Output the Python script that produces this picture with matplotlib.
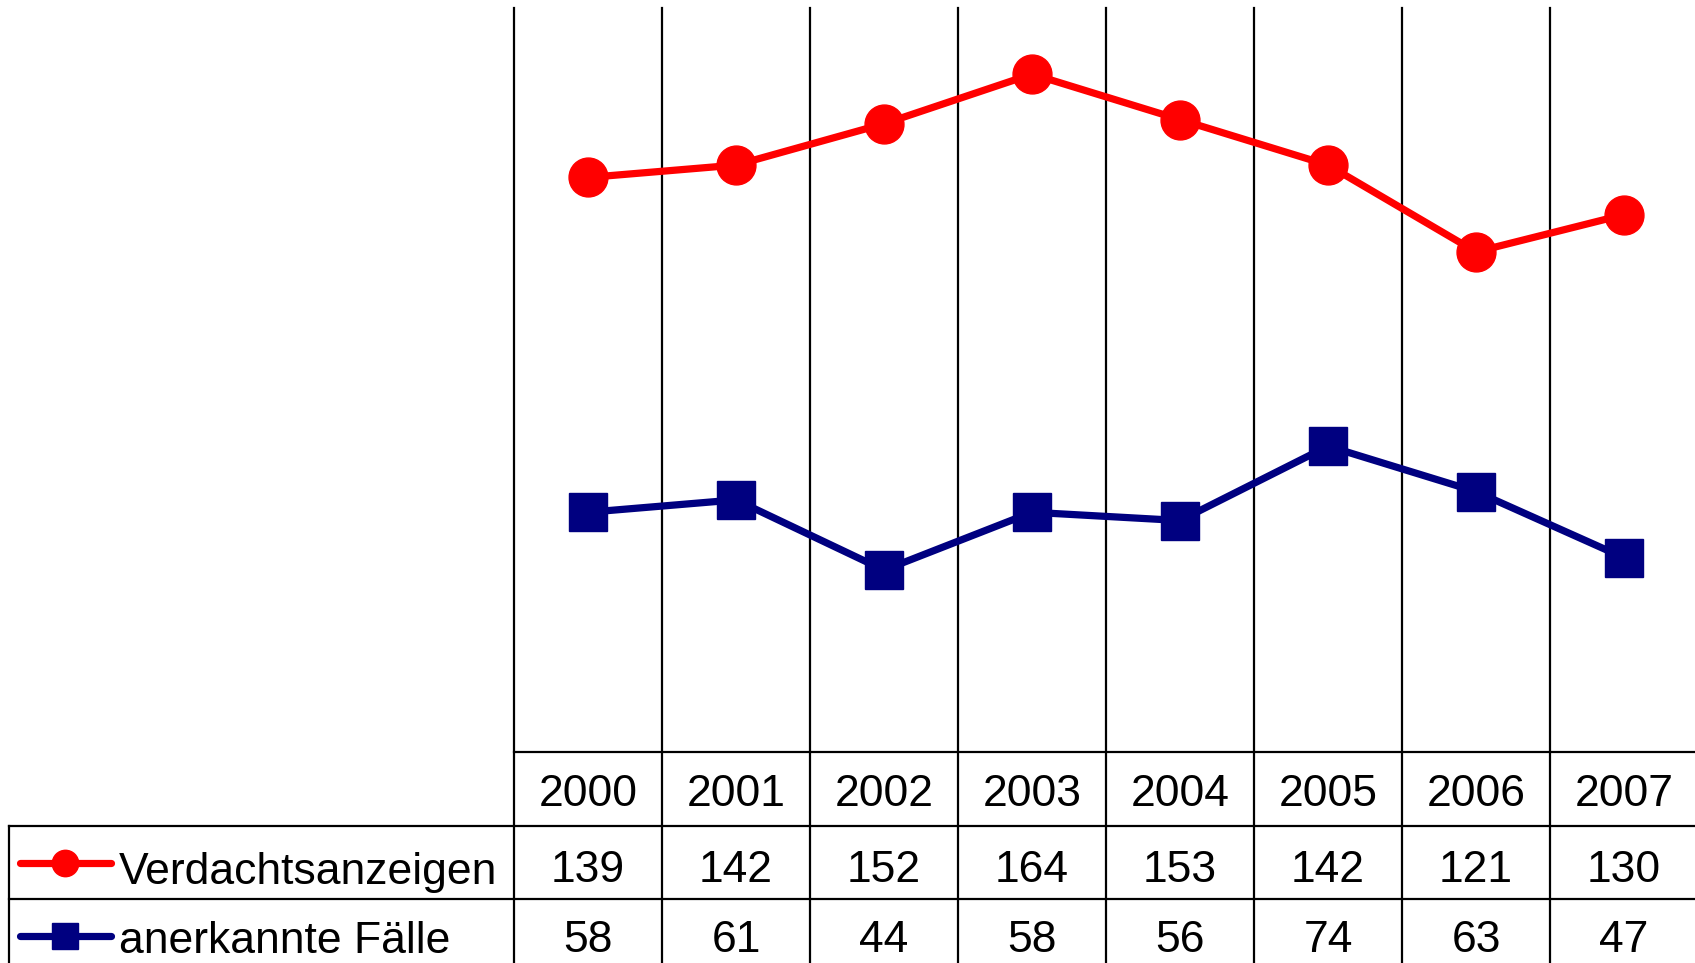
import matplotlib.pyplot as plt
from matplotlib.lines import Line2D
import matplotlib.transforms as mtransforms

plt.rcParams['font.family'] = ['Liberation Sans', 'DejaVu Sans']

years = ['2000', '2001', '2002', '2003', '2004', '2005', '2006', '2007']
verdacht = [139, 142, 152, 164, 153, 142, 121, 130]
anerkannt = [58, 61, 44, 58, 56, 74, 63, 47]
series_names = ['Verdachtsanzeigen', 'anerkannte Fälle']

W, H = 1695, 963
RED = '#ff0000'
NAVY = '#000080'
FS = 32


def fx(px):
    return px / W


def fy(py):
    return 1 - py / H


fig = plt.figure(figsize=(W / 100, H / 100), dpi=100)
ax = fig.add_axes([fx(514), fy(752), fx(1698) - fx(514), fy(8) - fy(752)])

x = list(range(len(years)))
ax.plot(x, verdacht, color=RED, lw=5.2, marker='o', ms=28, zorder=3, clip_on=False)
ax.plot(x, anerkannt, color=NAVY, lw=5.2, marker='s', ms=27, zorder=3, clip_on=False)

ax.set_xlim(-0.5, len(years) - 0.5)
ax.set_ylim(0, 180)
ax.set_xticks([])
ax.set_yticks([])
for s in ['top', 'right', 'left']:
    ax.spines[s].set_visible(False)
ax.spines['bottom'].set_linewidth(1.6)

# column separators through plot and data table
for i in range(len(years) + 1):
    ax.axvline(i - 0.5, ymin=-0.3, ymax=1, color='black', lw=1.6, clip_on=False, zorder=1)

# horizontal table lines
for py in [826, 899]:
    fig.add_artist(Line2D([fx(9), 1], [fy(py), fy(py)], color='black', lw=1.6))
fig.add_artist(Line2D([fx(9), fx(9)], [fy(826), 0], color='black', lw=1.6))

# table text (baselines)
trans = mtransforms.blended_transform_factory(ax.transData, fig.transFigure)
base_y = [806, 882, 952]
key_y = [863, 936]
for i, yr in enumerate(years):
    ax.text(i, fy(base_y[0]), yr, transform=trans, ha='center', va='baseline',
            fontsize=FS, clip_on=False)
    ax.text(i, fy(base_y[1]), str(verdacht[i]), transform=trans, ha='center',
            va='baseline', fontsize=FS, clip_on=False)
    ax.text(i, fy(base_y[2]), str(anerkannt[i]), transform=trans, ha='center',
            va='baseline', fontsize=FS, clip_on=False)

# legend keys in the table
for name, col, mk, ky, by in [(series_names[0], RED, 'o', key_y[0], 884),
                              (series_names[1], NAVY, 's', key_y[1], 953)]:
    fig.add_artist(Line2D([fx(20), fx(111)], [fy(ky), fy(ky)], color=col, lw=5.2,
                          solid_capstyle='round'))
    fig.add_artist(Line2D([fx(65)], [fy(ky)], color=col, marker=mk, ms=19, lw=0))
    fig.text(fx(119), fy(by), name, ha='left', va='baseline', fontsize=FS)

fig.savefig('out.png', dpi=100)
